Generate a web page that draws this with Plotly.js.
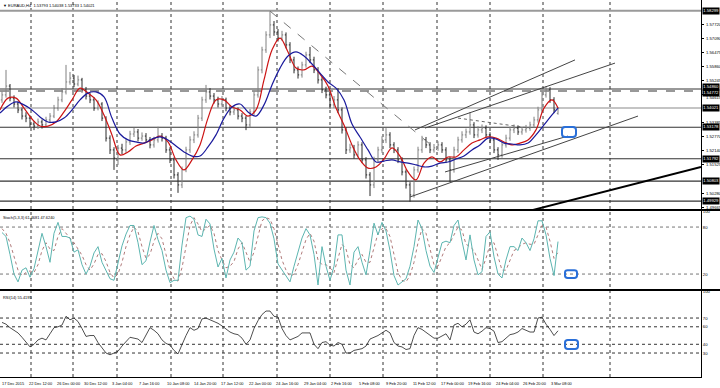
<!DOCTYPE html>
<html><head><meta charset="utf-8">
<script src="https://cdn.plot.ly/plotly-3.0.1.min.js"></script>
<style>html,body{margin:0;padding:0;background:#fff}#c{width:720px;height:388px}</style>
</head><body><div id="c"></div>
<script>
// ---------- DATA (EURAUD H4, bar index = position on time axis) ----------
const opens=[1.5438,1.5460,1.5499,1.5446,1.5420,1.5394,1.5367,1.5358,1.5332,1.5323,
1.5341,1.5328,1.5350,1.5367,1.5402,1.5438,1.5473,1.5517,1.5534,1.5508,
1.5526,1.5482,1.5455,1.5438,1.5402,1.5420,1.5358,1.5270,1.5218,1.5182,
1.5226,1.5218,1.5253,1.5288,1.5297,1.5270,1.5279,1.5262,1.5240,1.5262,
1.5279,1.5270,1.5218,1.5174,1.5108,1.5064,1.5130,1.5218,1.5262,1.5284,
1.5358,1.5438,1.5473,1.5455,1.5438,1.5420,1.5438,1.5402,1.5385,1.5394,
1.5367,1.5358,1.5328,1.5385,1.5460,1.5570,1.5658,1.5724,1.5768,1.5737,
1.5710,1.5724,1.5680,1.5614,1.5570,1.5548,1.5592,1.5636,1.5614,1.5570,
1.5526,1.5482,1.5460,1.5416,1.5438,1.5394,1.5306,1.5218,1.5227,1.5196,
1.5240,1.5174,1.5108,1.5064,1.5174,1.5218,1.5262,1.5284,1.5240,1.5218,
1.5174,1.5121,1.5064,1.5020,1.5130,1.5218,1.5262,1.5240,1.5218,1.5227,
1.5240,1.5218,1.5174,1.5130,1.5218,1.5262,1.5284,1.5297,1.5328,1.5284,
1.5306,1.5314,1.5284,1.5262,1.5218,1.5196,1.5240,1.5270,1.5306,1.5314,
1.5297,1.5306,1.5314,1.5328,1.5350,1.5394,1.5460,1.5482,1.5438,1.5379];
const highs=[1.5475,1.5570,1.5508,1.5458,1.5432,1.5405,1.5384,1.5370,1.5345,1.5356,
1.5352,1.5364,1.5380,1.5416,1.5452,1.5490,1.5592,1.5561,1.5548,1.5545,
1.5535,1.5495,1.5468,1.5450,1.5436,1.5428,1.5366,1.5282,1.5230,1.5240,
1.5245,1.5268,1.5302,1.5315,1.5310,1.5295,1.5292,1.5275,1.5276,1.5320,
1.5292,1.5280,1.5230,1.5185,1.5120,1.5145,1.5232,1.5278,1.5300,1.5372,
1.5452,1.5504,1.5490,1.5468,1.5452,1.5455,1.5448,1.5415,1.5410,1.5405,
1.5380,1.5368,1.5398,1.5475,1.5585,1.5672,1.5740,1.5828,1.5785,1.5750,
1.5742,1.5735,1.5692,1.5628,1.5585,1.5606,1.5650,1.5671,1.5628,1.5582,
1.5538,1.5496,1.5472,1.5455,1.5490,1.5405,1.5318,1.5245,1.5240,1.5256,
1.5252,1.5186,1.5120,1.5188,1.5232,1.5278,1.5314,1.5296,1.5252,1.5230,
1.5186,1.5132,1.5076,1.5145,1.5232,1.5280,1.5275,1.5252,1.5244,1.5256,
1.5252,1.5230,1.5186,1.5232,1.5276,1.5300,1.5312,1.5385,1.5340,1.5322,
1.5330,1.5326,1.5296,1.5274,1.5230,1.5254,1.5285,1.5320,1.5330,1.5326,
1.5320,1.5328,1.5342,1.5364,1.5408,1.5475,1.5499,1.5494,1.5450,1.5404];
const lows=[1.5425,1.5448,1.5432,1.5405,1.5380,1.5352,1.5340,1.5318,1.5305,1.5310,
1.5312,1.5318,1.5338,1.5358,1.5390,1.5428,1.5462,1.5505,1.5494,1.5498,
1.5470,1.5440,1.5424,1.5390,1.5392,1.5345,1.5255,1.5200,1.5130,1.5152,
1.5200,1.5205,1.5240,1.5275,1.5256,1.5258,1.5248,1.5225,1.5228,1.5250,
1.5255,1.5205,1.5160,1.5092,1.5029,1.5050,1.5120,1.5205,1.5248,1.5272,
1.5345,1.5425,1.5440,1.5422,1.5405,1.5408,1.5388,1.5370,1.5372,1.5352,
1.5340,1.5305,1.5318,1.5372,1.5448,1.5555,1.5645,1.5710,1.5720,1.5695,
1.5698,1.5665,1.5600,1.5555,1.5532,1.5536,1.5580,1.5600,1.5556,1.5510,
1.5468,1.5445,1.5400,1.5402,1.5380,1.5290,1.5200,1.5205,1.5180,1.5185,
1.5160,1.5092,1.5015,1.5050,1.5160,1.5205,1.5248,1.5226,1.5204,1.5160,
1.5106,1.5048,1.4990,1.5008,1.5118,1.5205,1.5226,1.5204,1.5206,1.5214,
1.5205,1.5160,1.5077,1.5118,1.5205,1.5250,1.5270,1.5285,1.5270,1.5272,
1.5292,1.5270,1.5248,1.5204,1.5174,1.5184,1.5228,1.5258,1.5292,1.5284,
1.5285,1.5294,1.5302,1.5316,1.5338,1.5382,1.5448,1.5425,1.5380,1.5373];
const closes=[1.5460,1.5499,1.5446,1.5420,1.5394,1.5367,1.5358,1.5332,1.5323,1.5341,
1.5328,1.5350,1.5367,1.5402,1.5438,1.5473,1.5517,1.5534,1.5508,1.5526,
1.5482,1.5455,1.5438,1.5402,1.5420,1.5358,1.5270,1.5218,1.5182,1.5226,
1.5218,1.5253,1.5288,1.5297,1.5270,1.5279,1.5262,1.5240,1.5262,1.5279,
1.5270,1.5218,1.5174,1.5108,1.5064,1.5130,1.5218,1.5262,1.5284,1.5358,
1.5438,1.5473,1.5455,1.5438,1.5420,1.5438,1.5402,1.5385,1.5394,1.5367,
1.5358,1.5328,1.5385,1.5460,1.5570,1.5658,1.5724,1.5768,1.5737,1.5710,
1.5724,1.5680,1.5614,1.5570,1.5548,1.5592,1.5636,1.5614,1.5570,1.5526,
1.5482,1.5460,1.5416,1.5438,1.5394,1.5306,1.5218,1.5227,1.5196,1.5240,
1.5174,1.5108,1.5064,1.5174,1.5218,1.5262,1.5284,1.5240,1.5218,1.5174,
1.5121,1.5064,1.5020,1.5130,1.5218,1.5262,1.5240,1.5218,1.5227,1.5240,
1.5218,1.5174,1.5130,1.5218,1.5262,1.5284,1.5297,1.5328,1.5284,1.5306,
1.5314,1.5284,1.5262,1.5218,1.5196,1.5240,1.5270,1.5306,1.5314,1.5297,
1.5306,1.5314,1.5328,1.5350,1.5394,1.5460,1.5482,1.5438,1.5394,1.5402];
// moving averages, one reading every second bar
const maFast=[1.5394,1.5446,1.5446,1.5402,1.5354,1.5323,1.5323,1.5341,1.5385,1.5438,
1.5490,1.5468,1.5438,1.5372,1.5284,1.5196,1.5209,1.5235,1.5248,1.5262,
1.5279,1.5253,1.5174,1.5130,1.5174,1.5240,1.5358,1.5438,1.5438,1.5407,
1.5394,1.5367,1.5394,1.5526,1.5658,1.5710,1.5649,1.5578,1.5570,1.5587,
1.5552,1.5499,1.5402,1.5328,1.5240,1.5174,1.5138,1.5143,1.5178,1.5227,
1.5191,1.5121,1.5086,1.5160,1.5187,1.5165,1.5187,1.5187,1.5218,1.5248,
1.5262,1.5275,1.5270,1.5253,1.5240,1.5248,1.5262,1.5306,1.5402,1.5438,1.5402];
const maSlow=[1.5380,1.5411,1.5429,1.5416,1.5394,1.5363,1.5341,1.5341,1.5358,1.5394,
1.5438,1.5468,1.5473,1.5451,1.5358,1.5288,1.5262,1.5253,1.5248,1.5266,
1.5275,1.5262,1.5235,1.5209,1.5191,1.5191,1.5231,1.5284,1.5358,1.5407,
1.5420,1.5385,1.5367,1.5416,1.5504,1.5578,1.5631,1.5649,1.5631,1.5596,
1.5556,1.5517,1.5490,1.5438,1.5332,1.5275,1.5218,1.5165,1.5169,1.5174,
1.5165,1.5160,1.5152,1.5143,1.5147,1.5160,1.5165,1.5178,1.5191,1.5218,
1.5240,1.5270,1.5266,1.5248,1.5244,1.5240,1.5248,1.5284,1.5328,1.5372,1.5402];
const stochK=[73,68,45,20,10,25,28,16,27,48,72,55,35,72,86,68,68,66,48,51,
32,20,30,47,55,35,25,14,12,35,56,71,82,82,60,32,37,61,82,64,
50,25,9,12,12,57,92,94,90,70,68,90,84,52,29,40,15,38,48,66,
60,25,30,75,92,93,92,85,65,33,25,17,10,30,48,66,78,70,45,6,
55,30,12,30,70,70,25,6,48,55,35,19,50,85,70,86,75,50,18,6,
10,14,30,55,89,78,50,30,22,40,60,62,60,82,89,62,38,70,38,19,
23,68,74,42,20,15,38,55,55,50,66,60,50,65,88,88,70,40,18,61.47];
const stochD=[78,72,60,42,25,18,22,24,22,32,50,60,52,50,68,78,72,67,60,52,
44,32,25,33,45,46,36,22,15,20,35,55,70,80,74,55,40,45,62,72,
65,45,25,14,11,28,55,82,92,84,74,78,82,72,50,38,28,30,36,52,
60,48,35,48,70,88,92,90,78,58,38,25,17,20,32,48,64,72,62,38,
32,32,28,22,40,58,52,32,28,38,45,35,35,55,72,78,78,68,45,22,
12,10,18,35,60,78,72,50,32,30,42,55,60,70,80,76,58,55,50,38,
26,40,58,60,42,25,25,38,50,53,58,60,58,58,70,82,80,62,40,47.62];
const rsi=[65,63,59,56,53,48,42,37,40,45,47,45,52,59,60,62,72,68,70,66,
58,49,50,50,42,36,30,28,30,32,38,43,48,47,46,42,50,59,56,52,
45,41,39,33,29,40,50,59,56,58,69,70,68,66,64,61,57,54,52,51,
47,40,45,58,67,74,78,78,72,71,58,50,45,47,49,53,53,53,40,35,
42,43,39,38,42,40,30,30,33,34,35,38,46,48,50,53,56,53,42,38,
37,34,35,50,59,57,54,50,47,47,50,52,45,62,64,60,63,68,54,52,
55,59,58,55,42,43,47,51,52,54,58,56,54,54,70,71,63,57,50,55.42];
const timeLabels=["17 Dec 2015","22 Dec 12:00","26 Dec 00:00","30 Dec 12:00","3 Jan 04:00","7 Jan 16:00","10 Jan 08:00","14 Jan 20:00","17 Jan 12:00","22 Jan 00:00","24 Jan 16:00","29 Jan 04:00","2 Feb 16:00","5 Feb 08:00","9 Feb 20:00","11 Feb 12:00","17 Feb 00:00","19 Feb 16:00","24 Feb 04:00","26 Feb 20:00","3 Mar 08:00"];
const priceTicks=[1.57720,1.57090,1.56475,1.55860,1.55245,1.54615,1.53385,1.52770,1.52140,1.51525,1.50280,1.49665];
const levelPrices=[1.58299,1.54860,1.54772,1.54021,1.53178,1.51792,1.50803,1.49929];
const levelLabels=["1.58299","1.54860","1.54772","1.54021","1.53178","1.51792","1.50803","1.49929"];
const stochLevels=[20,80];
const rsiLevels=[30,40,60,70];
const header="\u25BC EURAUD,H4  1.53793 1.54038 1.53733 1.54021";
const stochTitle="Stoch(5,3,3) 61.4681 47.6240";
const rsiTitle="RSI(14) 55.4195";

// ---------- LAYOUT HELPERS ----------
const barX=closes.map((_,i)=>i);
const maX=maFast.map((_,k)=>Math.min(2*k-0.5,139));
const FONT="Liberation Sans, Arial, sans-serif";
const dMain=[0.4456,1], dSto=[0.2334,0.4403], dRsi=[0,0.2281];
const traces=[
 {type:'ohlc',x:barX,open:opens,high:highs,low:lows,close:closes,xaxis:'x',yaxis:'y',
  increasing:{line:{color:'#808080',width:1}},decreasing:{line:{color:'#2a2a2a',width:1}},tickwidth:0.3,hoverinfo:'skip'},
 {type:'scatter',mode:'lines',x:maX,y:maFast,line:{color:'#cc1414',width:1.2,shape:'spline'},xaxis:'x',yaxis:'y'},
 {type:'scatter',mode:'lines',x:maX,y:maSlow,line:{color:'#1a1a9c',width:1.2,shape:'spline'},xaxis:'x',yaxis:'y'},
 {type:'scatter',mode:'lines',x:barX,y:stochD,line:{color:'#b07a7a',width:1,dash:'dot'},xaxis:'x',yaxis:'y2'},
 {type:'scatter',mode:'lines',x:barX,y:stochK,line:{color:'#5cb5b0',width:1},xaxis:'x',yaxis:'y2'},
 {type:'scatter',mode:'lines',x:barX,y:rsi,line:{color:'#222',width:0.8},xaxis:'x',yaxis:'y3'}
];
const shapes=[];
const gridIdx=[7.25,17.75,28.75,42.25,55.25,68.75,82,95.25,108.75,122,135.25,152];
gridIdx.forEach(g=>shapes.push({type:'line',xref:'x',yref:'paper',x0:g,x1:g,y0:0,y1:1,line:{color:'#333',width:1,dash:'dot'},layer:'below'}));
const lvlStyle=[{c:'#9a9a9a',w:2,d:'solid'},{c:'#333',w:1,d:'solid'},{c:'#333',w:1,d:'dash'},{c:'#c4c4c4',w:2,d:'solid'},
 {c:'#333',w:1.2,d:'solid'},{c:'#333',w:1.2,d:'solid'},{c:'#333',w:1.2,d:'solid'},{c:'#333',w:1.2,d:'solid'}];
levelPrices.forEach((p,i)=>shapes.push({type:'line',xref:'paper',yref:'y',x0:0,x1:1,y0:p,y1:p,line:{color:lvlStyle[i].c,width:lvlStyle[i].w,dash:lvlStyle[i].d},layer:'below'}));
stochLevels.forEach(v=>shapes.push({type:'line',xref:'paper',yref:'y2',x0:0,x1:1,y0:v,y1:v,line:{color:'#777',width:1,dash:'dot'},layer:'below'}));
rsiLevels.forEach(v=>shapes.push({type:'line',xref:'paper',yref:'y3',x0:0,x1:1,y0:v,y1:v,line:{color:'#333',width:1,dash:'dot'},layer:'below'}));
// trend lines (drawn objects)
const tl=(x0,y0,x1,y1,c,w,d)=>shapes.push({type:'line',xref:'x',yref:'y',x0,y0,x1,y1,line:{color:c,width:w,dash:d}});
tl(67,1.5829,108.75,1.5218,'#777',1,'dash');
tl(103.25,1.5306,143.25,1.5614,'#444',1,'solid');
tl(105.75,1.5314,153.25,1.5600,'#444',1,'solid');
tl(102,1.5011,159,1.5367,'#444',1,'solid');
tl(110.75,1.5121,141.5,1.5279,'#444',1,'solid');
tl(114,1.5358,132,1.5314,'#666',1,'dot');
tl(132.75,1.4954,174.75,1.5143,'#000',2,'solid');
// separators
[0.4430,0.2308].forEach(y=>shapes.push({type:'line',xref:'paper',yref:'paper',x0:0,x1:1.03,y0:y,y1:y,line:{color:'#000',width:2}}));
// blue rounded markers
function rbox(x0,x1,y0,y1,yref){const rx=(x1-x0)*0.22, ry=(y1-y0)*0.3;
 const p=`M ${x0+rx},${y0} L ${x1-rx},${y0} Q ${x1},${y0} ${x1},${y0+ry} L ${x1},${y1-ry} Q ${x1},${y1} ${x1-rx},${y1} L ${x0+rx},${y1} Q ${x0},${y1} ${x0},${y1-ry} L ${x0},${y0+ry} Q ${x0},${y0} ${x0+rx},${y0} Z`;
 shapes.push({type:'path',xref:'x',yref:yref,path:p,line:{color:'#2a6fd8',width:2}});}
rbox(140,143.5,1.5275,1.5319,'y');
rbox(140.75,143.75,15,25,'y2');
rbox(140.75,144,34.6,44.9,'y3');

const ann=[];
const lblPx=27.43;
timeLabels.forEach((t,k)=>ann.push({xref:'x',yref:'paper',x:(k*lblPx-2)/4,y:-0.004,xanchor:'left',yanchor:'top',text:t,showarrow:false,font:{family:FONT,size:3.9,color:'#000'}}));
// price scale labels (drawn as text so crowded ones can be nudged)
const tickShift=[0,0,0,0,0,-2.5,0,0,0,0,0,0];
priceTicks.forEach((p,i)=>ann.push({xref:'paper',yref:'y',x:1.004,y:p,yshift:tickShift[i],xanchor:'left',yanchor:'middle',text:p.toFixed(5),showarrow:false,font:{family:FONT,size:4.2,color:'#000'}}));
const boxShift=[0,2,-1.5,0,0,0,0,0];
levelPrices.forEach((p,i)=>ann.push({xref:'paper',yref:'y',x:1.002,y:p,yshift:boxShift[i],xanchor:'left',yanchor:'middle',text:levelLabels[i],showarrow:false,bgcolor:'#000',borderpad:0.3,font:{family:FONT,size:4.2,color:'#fff'}}));
ann.push({xref:'paper',yref:'paper',x:0.002,y:0.998,xanchor:'left',yanchor:'top',text:header,showarrow:false,font:{family:FONT,size:4.0,color:'#000'}});
ann.push({xref:'paper',yref:'paper',x:0.002,y:dSto[1]-0.004,xanchor:'left',yanchor:'top',text:stochTitle,showarrow:false,font:{family:FONT,size:3.9,color:'#000'}});
ann.push({xref:'paper',yref:'paper',x:0.002,y:dRsi[1]-0.004,xanchor:'left',yanchor:'top',text:rsiTitle,showarrow:false,font:{family:FONT,size:3.9,color:'#000'}});

const axFont={family:FONT,size:4.2,color:'#000'};
const layout={
 width:720,height:388,margin:{l:0,r:19,t:0,b:11},paper_bgcolor:'#fff',plot_bgcolor:'#fff',showlegend:false,
 font:{family:FONT},
 xaxis:{range:[-0.5,174.75],domain:[0,1],anchor:'y3',showgrid:false,zeroline:false,showticklabels:false,
   showline:true,linecolor:'#000',linewidth:1,rangeslider:{visible:false},fixedrange:true},
 yaxis:{domain:dMain,range:[1.49580,1.58776],side:'right',anchor:'x',tickmode:'array',tickvals:priceTicks,
   showticklabels:false,ticks:'outside',ticklen:2,tickcolor:'#000',
   showgrid:false,zeroline:false,showline:true,linecolor:'#000',linewidth:1},
 yaxis2:{domain:dSto,range:[0.9,100.5],side:'right',anchor:'x',tickmode:'array',tickvals:[0,20,80,100],
   ticktext:['0','20','80','100'],ticks:'',tickfont:axFont,showgrid:false,zeroline:false,showline:true,linecolor:'#000',linewidth:1},
 yaxis3:{domain:dRsi,range:[2.6,100.9],side:'right',anchor:'x',tickmode:'array',tickvals:[0,30,40,60,70,100],
   ticktext:['0','30','40','60','70','100'],ticks:'',tickfont:axFont,showgrid:false,zeroline:false,showline:true,linecolor:'#000',linewidth:1},
 shapes:shapes,annotations:ann
};
Plotly.newPlot('c',traces,layout,{staticPlot:true,displayModeBar:false});
</script></body></html>
